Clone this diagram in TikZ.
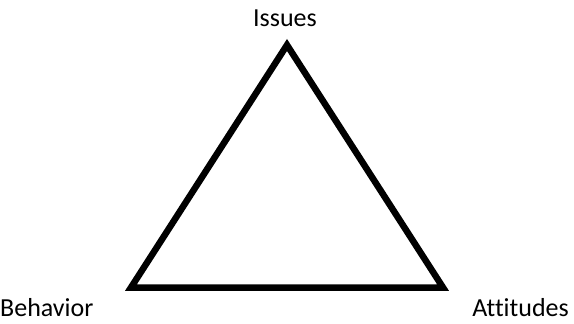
\documentclass[tikz,border=0pt]{standalone}
\usepackage{fontspec}
\setmainfont[Ligatures=NoCommon]{Carlito}
\usetikzlibrary{positioning}

\begin{document}
\begin{tikzpicture}[x=1pt,y=-1pt,
    lbl/.style={font=\fontsize{26}{30}\selectfont, inner sep=0pt}]
    \useasboundingbox (0,0) rectangle (574,324);

    % Corners
    \coordinate (top) at (287,45);
    \coordinate (left) at (131,287.5);
    \coordinate (right) at (443,287.5);

    % Triangle
    \draw[line width=6.5pt, line join=miter] (top) -- (left) -- (right) -- cycle;

    % Labels
    \node[lbl, anchor=base] (issues) at (285,27) {Issues};
    \node[lbl, anchor=base west] (behavior) at (0,316) {Behavior};
    \node[lbl, anchor=base east] (attitudes) at (569,316) {Attitudes};
\end{tikzpicture}
\end{document}
